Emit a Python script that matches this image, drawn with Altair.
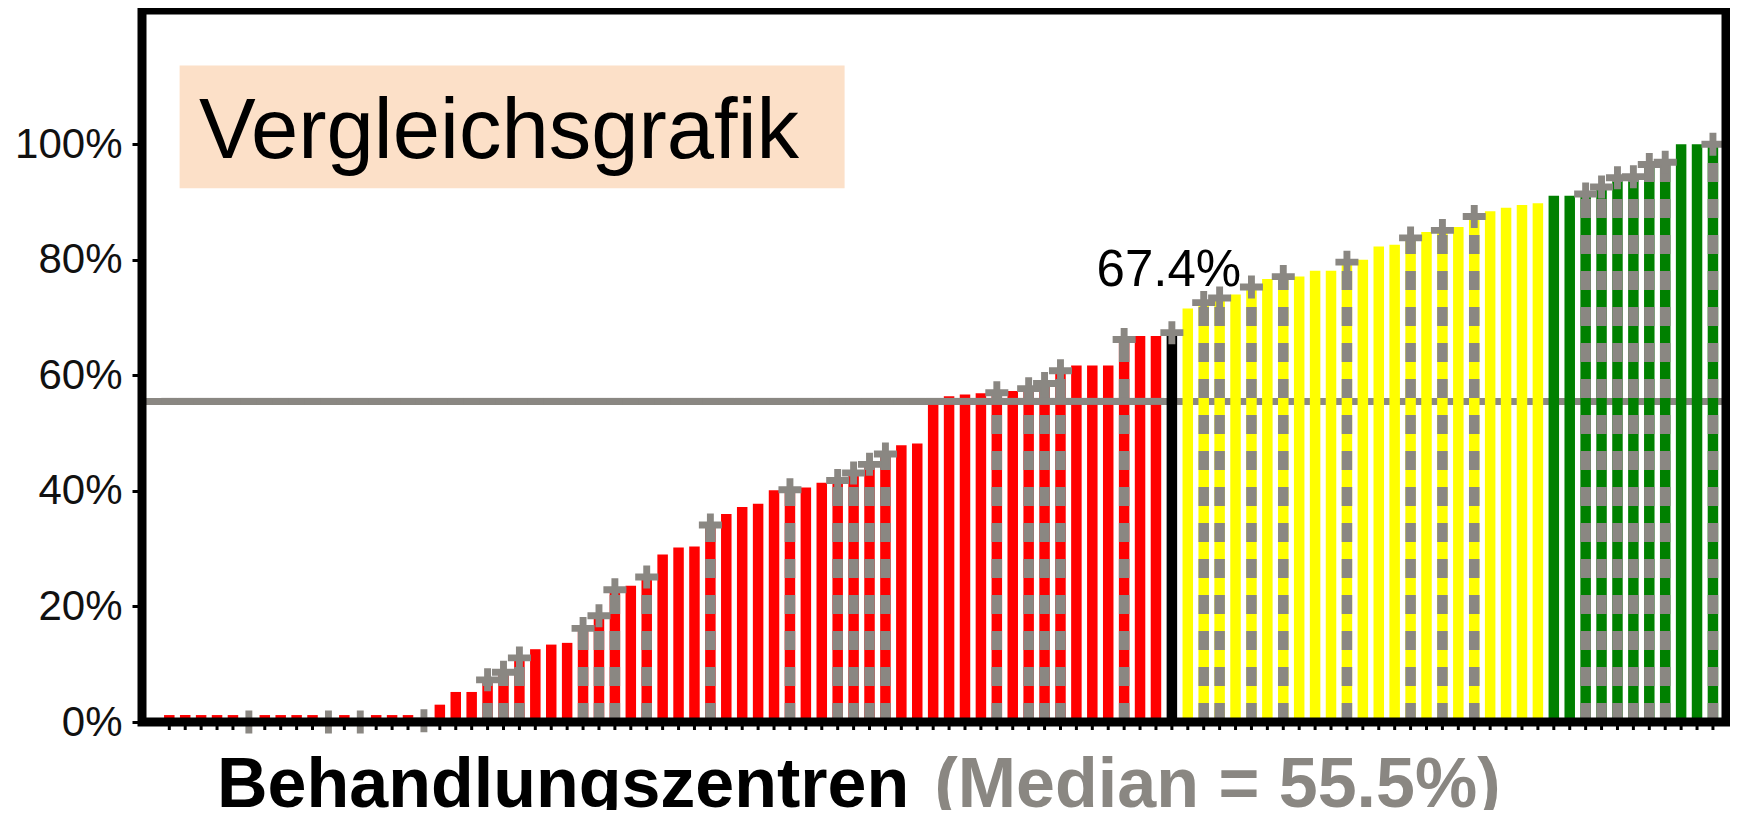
import altair as alt
import pandas as pd

# ---------------- data ----------------
VALUES = [1.2, 1.2, 1.2, 1.2, 1.2, 0.0, 1.2, 1.2, 1.2, 1.2,
          0.0, 1.2, 0.0, 1.2, 1.2, 1.2, 0.2, 3.0, 5.2, 5.2,
          7.3, 8.6, 11.1, 12.6, 13.4, 13.7, 16.2, 18.4, 22.9, 23.6,
          25.1, 29.0, 30.2, 30.4, 34.1, 36.0, 37.2, 37.8, 40.1, 40.2,
          40.6, 41.4, 41.8, 43.1, 44.6, 46.4, 47.9, 48.2, 55.0, 56.4,
          56.7, 56.9, 57.0, 57.3, 57.7, 58.6, 60.8, 61.7, 61.7, 61.7,
          66.2, 66.8, 66.8, 67.4, 71.6, 72.6, 73.4, 74.0, 75.3, 76.7,
          77.1, 77.1, 78.1, 78.1, 79.6, 80.0, 82.3, 82.6, 83.8, 84.8,
          85.1, 85.7, 87.5, 88.4, 89.0, 89.5, 89.8, 91.1, 91.1, 91.4,
          92.6, 94.2, 94.4, 96.5, 96.9, 100.0, 100.0, 100.0]
CATEGORIES = ["rot"] * 63 + ["eigen"] + ["gelb"] * 23 + ["gruen"] * 11
PLUS_BARS = [6, 11, 13, 17, 21, 22, 23, 27, 28, 29, 31, 35, 40, 43, 44, 45,
             46, 53, 55, 56, 57, 61, 64, 66, 67, 69, 71, 75, 79, 81, 83,
             90, 91, 92, 93, 94, 95, 98]
MEDIAN = 55.5
Y_TICKS = [0, 20, 40, 60, 80, 100]
TITLE = "Vergleichsgrafik"
XTITLE_MAIN = "Behandlungszentren"
XTITLE_MEDIAN = "(Median = 55.5%)"

CAT_DOMAIN = ["rot", "gelb", "gruen", "eigen"]
CAT_COLORS = ["#FF0000", "#FFFF00", "#008000", "#000000"]
GRAY = "#8A8782"
FONT = "Liberation Sans"

W, H = 1584, 712

idx = list(range(1, len(VALUES) + 1))
df = pd.DataFrame({
    "idx": idx,
    "value": VALUES,
    "cat": CATEGORIES,
    "plus": [i in PLUS_BARS for i in idx],
})
df["base"] = 0.0
df["striped"] = df["plus"] & (df["cat"] != "eigen")

xscale = alt.Scale(domain=[-0.7155, 98.82], nice=False, zero=False)
yscale = alt.Scale(domain=[0, 123.25], nice=False, zero=True)

base = alt.Chart(df)

# median line behind bars
med_df = pd.DataFrame({"median": [MEDIAN]})
med_back = alt.Chart(med_df).mark_rule(color=GRAY, strokeWidth=7).encode(
    y=alt.Y("median:Q", scale=yscale)
)

bars = base.transform_calculate(
    x0="datum.idx - 0.33", x1="datum.idx + 0.33"
).mark_bar().encode(
    x=alt.X("x0:Q", scale=xscale, axis=None),
    x2="x1:Q",
    y=alt.Y("value:Q", scale=yscale, stack=None,
            axis=alt.Axis(values=Y_TICKS, labelExpr="datum.value + '%'",
                          labelFont=FONT, labelFontSize=42, labelColor="#111111",
                          labelPadding=10, tickSize=10, tickWidth=3,
                          tickColor="black", domain=False, grid=False, title=None)),
    y2="base:Q",
    color=alt.Color("cat:N", scale=alt.Scale(domain=CAT_DOMAIN, range=CAT_COLORS),
                    legend=None),
)

# small category ticks under every bar
xticks = base.mark_rule(color="black", strokeWidth=3).encode(
    x=alt.X("idx:Q", scale=xscale),
    y=alt.value(H),
    y2=alt.value(H + 8),
)

stripes = base.transform_filter("datum.striped").mark_rule(
    color=GRAY, strokeWidth=10.5, strokeDash=[19, 17]
).encode(
    x=alt.X("idx:Q", scale=xscale),
    y=alt.Y("base:Q", scale=yscale),
    y2="value:Q",
)

med_front = base.transform_filter("datum.cat == 'rot'").transform_calculate(
    x0="datum.idx - 0.5", x1="datum.idx + 0.5", m=str(MEDIAN)
).mark_rule(color=GRAY, strokeWidth=7).encode(
    x=alt.X("x0:Q", scale=xscale),
    x2="x1:Q",
    y=alt.Y("m:Q", scale=yscale),
)

PLUS_PATH = ("M-1,-0.3L-0.3,-0.3L-0.3,-1L0.3,-1L0.3,-0.3L1,-0.3L1,0.3L0.3,0.3"
             "L0.3,1L-0.3,1L-0.3,0.3L-1,0.3Z")
plus = base.transform_filter("datum.plus").mark_point(
    shape=PLUS_PATH, size=529, filled=True, color=GRAY, opacity=1, strokeWidth=0
).encode(
    x=alt.X("idx:Q", scale=xscale),
    y=alt.Y("value:Q", scale=yscale),
)

label = base.transform_filter("datum.cat == 'eigen'").transform_calculate(
    lbl="format(datum.value, '.1f') + '%'"
).mark_text(font=FONT, fontSize=51, color="black", baseline="alphabetic",
            align="center", dy=-47, dx=-3).encode(
    x=alt.X("idx:Q", scale=xscale),
    y=alt.Y("value:Q", scale=yscale),
    text="lbl:N",
)

one = pd.DataFrame({"t": [TITLE]})
title_box = alt.Chart(one).mark_rect(color="#FCE0C8").encode(
    x=alt.value(37.6), x2=alt.value(702.6), y=alt.value(55.5), y2=alt.value(178.3)
)
title_txt = alt.Chart(one).mark_text(
    font=FONT, fontSize=85, color="black", align="left", baseline="alphabetic"
).encode(x=alt.value(57), y=alt.value(148.3), text="t:N")

xt = pd.DataFrame({"a": [XTITLE_MAIN], "b": [XTITLE_MEDIAN]})
xtitle_a = alt.Chart(xt).mark_text(
    font=FONT, fontSize=70, fontWeight="bold", color="black", align="left",
    baseline="alphabetic"
).encode(x=alt.value(75), y=alt.value(797), text="a:N")
xtitle_b = alt.Chart(xt).mark_text(
    font=FONT, fontSize=70, fontWeight="bold", color=GRAY, align="left",
    baseline="alphabetic"
).encode(x=alt.value(792.5), y=alt.value(797), text="b:N")

frame = alt.Chart(one).mark_rect(filled=False, stroke="black", strokeWidth=9).encode(
    x=alt.value(0), x2=alt.value(W), y=alt.value(0), y2=alt.value(H)
)

chart = alt.layer(
    med_back, bars, xticks, stripes, med_front, plus, label,
    title_box, title_txt, xtitle_a, xtitle_b, frame
).properties(
    width=W, height=H,
    padding={"left": 134, "top": 2, "right": 4, "bottom": 88},
    autosize=alt.AutoSizeParams(type="none"),
    background="white",
).configure_view(strokeWidth=0)

chart.save("out.html", embed_options={"renderer": "svg", "actions": False})
